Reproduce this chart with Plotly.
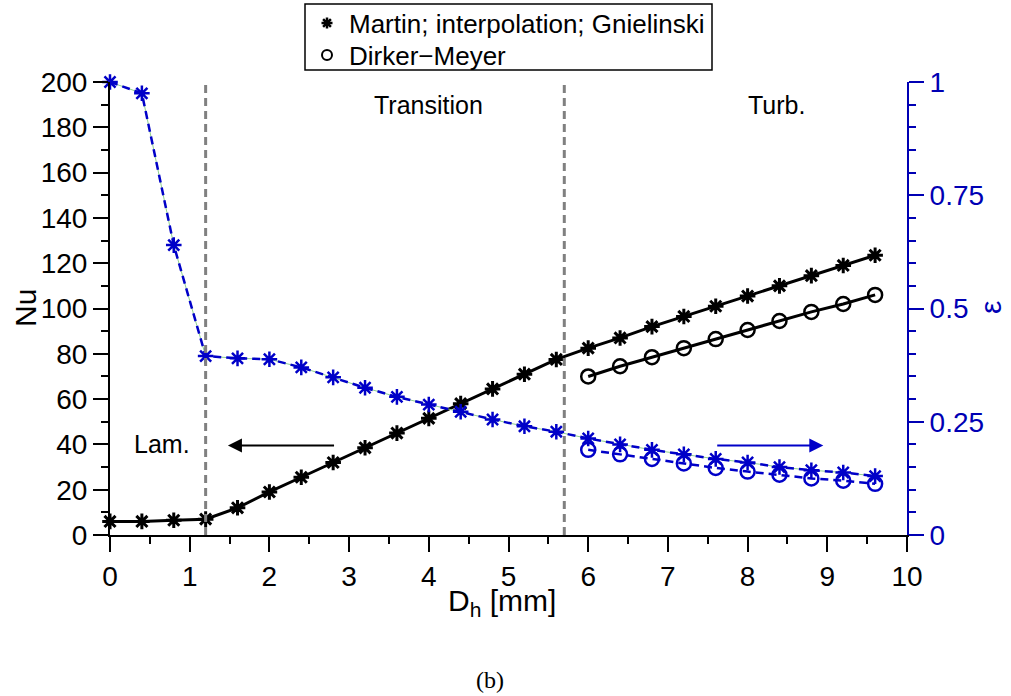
import plotly.graph_objects as go

# ---- data ----
dh = [0.0, 0.4, 0.8, 1.2, 1.6, 2.0, 2.4, 2.8, 3.2, 3.6, 4.0, 4.4, 4.8,
      5.2, 5.6, 6.0, 6.4, 6.8, 7.2, 7.6, 8.0, 8.4, 8.8, 9.2, 9.6]
nu_martin = [6, 6, 6.5, 7, 12, 19, 25.5, 32, 38.5, 45, 51.5, 58, 64.5,
             71, 77.5, 82.5, 87, 92, 96.5, 101, 105.5, 110, 114.5, 119, 123.5]
eps_martin = [1.0, 0.975, 0.64, 0.395, 0.39, 0.388, 0.37, 0.348, 0.325, 0.305,
              0.288, 0.272, 0.255, 0.24, 0.228, 0.213, 0.2, 0.188, 0.178,
              0.168, 0.16, 0.15, 0.143, 0.138, 0.13]

dh_dm = [6.0, 6.4, 6.8, 7.2, 7.6, 8.0, 8.4, 8.8, 9.2, 9.6]
nu_dm = [70, 74.5, 78.5, 82.5, 86.5, 90.5, 94.5, 98.5, 102, 106]
eps_dm = [0.188, 0.178, 0.168, 0.158, 0.148, 0.14, 0.133, 0.125, 0.12, 0.113]

regime_bounds = [1.2, 5.7]
legend_names = ["Martin; interpolation; Gnielinski", "Dirker\u2212Meyer"]

BLUE = "#0000C8"
AXBLUE = "#0000B4"
FONT = "Liberation Sans, Arial, sans-serif"
FS = 25      # annotation text
TFS = 28     # tick labels
AFS = 30     # axis titles
LFS = 26     # legend text

# plot-area geometry (pixels) used to place the hand-made legend
L, R, T, B = 110, 104, 82, 161
W, H = 1011, 696
PW, PH = W - L - R, H - T - B


def px2paper_x(px):
    return (px - L) / PW


def px2paper_y(py):
    return (H - B - py) / PH


fig = go.Figure()

# thin green interpolation line under the blue dashed line
fig.add_trace(go.Scatter(x=dh, y=eps_martin, yaxis="y2", mode="lines",
                         line=dict(color="#8fd08f", width=1),
                         showlegend=False, hoverinfo="skip"))
fig.add_trace(go.Scatter(x=dh, y=eps_martin, yaxis="y2", mode="lines+markers",
                         line=dict(color=BLUE, width=2.5, dash="8px,5px"),
                         marker=dict(symbol="asterisk-open", size=13, color=BLUE,
                                     line=dict(color=BLUE, width=2.5)),
                         showlegend=False, cliponaxis=False))
fig.add_trace(go.Scatter(x=dh_dm, y=eps_dm, yaxis="y2", mode="lines+markers",
                         line=dict(color=BLUE, width=2.5, dash="8px,5px"),
                         marker=dict(symbol="circle-open", size=14, color=BLUE,
                                     line=dict(color=BLUE, width=2.5)),
                         showlegend=False, cliponaxis=False))
fig.add_trace(go.Scatter(x=dh, y=nu_martin, mode="lines+markers",
                         line=dict(color="black", width=3),
                         marker=dict(symbol="asterisk-open", size=13, color="black",
                                     line=dict(color="black", width=3)),
                         showlegend=False, cliponaxis=False))
fig.add_trace(go.Scatter(x=dh_dm, y=nu_dm, mode="lines+markers",
                         line=dict(color="black", width=3),
                         marker=dict(symbol="circle-open", size=14, color="black",
                                     line=dict(color="black", width=2.5)),
                         showlegend=False, cliponaxis=False))

for xb in regime_bounds:
    fig.add_shape(type="line", x0=xb, x1=xb, y0=0, y1=200, xref="x", yref="y",
                  line=dict(color="#808080", width=3, dash="8px,5px"), layer="above")

# ---- hand-made legend box (matches the reference's compact box) ----
fig.add_shape(type="rect", xref="paper", yref="paper",
              x0=px2paper_x(305), x1=px2paper_x(712),
              y0=px2paper_y(70), y1=px2paper_y(4),
              line=dict(color="black", width=1.5), fillcolor="rgba(0,0,0,0)",
              layer="above")

# legend symbols: an 8-armed asterisk and an open circle, sized in pixels
r_ast, d_ast = 5.5, 3.9
fig.add_shape(type="path", xref="paper", yref="paper",
              xsizemode="pixel", ysizemode="pixel",
              xanchor=px2paper_x(327), yanchor=px2paper_y(23),
              path=(f"M{-r_ast},0 L{r_ast},0 M0,{-r_ast} L0,{r_ast} "
                    f"M{-d_ast},{-d_ast} L{d_ast},{d_ast} "
                    f"M{-d_ast},{d_ast} L{d_ast},{-d_ast}"),
              line=dict(color="black", width=2.5), layer="above")
fig.add_shape(type="circle", xref="paper", yref="paper",
              xsizemode="pixel", ysizemode="pixel",
              xanchor=px2paper_x(327), yanchor=px2paper_y(55),
              x0=-5, x1=5, y0=-5, y1=5,
              line=dict(color="black", width=2), layer="above")

ann = [
    dict(x=px2paper_x(347), y=px2paper_y(24), xref="paper", yref="paper",
         text=legend_names[0], showarrow=False, xanchor="left", yanchor="middle",
         font=dict(family=FONT, size=LFS, color="black")),
    dict(x=px2paper_x(347), y=px2paper_y(56), xref="paper", yref="paper",
         text=legend_names[1], showarrow=False, xanchor="left", yanchor="middle",
         font=dict(family=FONT, size=LFS, color="black")),
    dict(x=0.65, y=40, xref="x", yref="y", text="Lam.", showarrow=False),
    dict(x=4.0, y=190, xref="x", yref="y", text="Transition", showarrow=False),
    dict(x=8.36, y=190, xref="x", yref="y", text="Turb.", showarrow=False),
    dict(x=1.48, y=39.5, ax=2.83, ay=39.5, xref="x", yref="y", axref="x", ayref="y",
         text="", showarrow=True, arrowhead=2, arrowsize=1.4, arrowwidth=2,
         arrowcolor="black"),
    dict(x=8.95, y=39.5, ax=7.6, ay=39.5, xref="x", yref="y", axref="x", ayref="y",
         text="", showarrow=True, arrowhead=2, arrowsize=1.4, arrowwidth=2,
         arrowcolor=BLUE),
    dict(x=px2paper_x(25), y=px2paper_y(308), xref="paper", yref="paper", text="Nu",
         showarrow=False, textangle=-90, xanchor="center", yanchor="middle",
         font=dict(family=FONT, size=AFS, color="black")),
    dict(x=px2paper_x(990), y=px2paper_y(308), xref="paper", yref="paper",
         text="\u03b5", showarrow=False, textangle=-90,
         xanchor="center", yanchor="middle",
         font=dict(color=AXBLUE, size=AFS, family=FONT)),
    dict(x=px2paper_x(502), y=px2paper_y(602), xref="paper", yref="paper",
         text="D<sub>h</sub> [mm]", showarrow=False, xanchor="center", yanchor="middle",
         font=dict(family=FONT, size=AFS, color="black")),
    dict(x=px2paper_x(490), y=px2paper_y(680), xref="paper", yref="paper", text="(b)",
         showarrow=False, xanchor="center", yanchor="middle",
         font=dict(family="Liberation Serif, Times New Roman, serif", size=24,
                   color="black")),
]
for a in ann:
    a.setdefault("font", dict(family=FONT, size=FS, color="black"))

fig.update_layout(
    width=W, height=H,
    margin=dict(l=L, r=R, t=T, b=B),
    paper_bgcolor="white", plot_bgcolor="white",
    font=dict(family=FONT, size=FS, color="black"),
    showlegend=False,
    xaxis=dict(range=[0, 10], dtick=1, showgrid=False, zeroline=False,
               showline=True, linecolor="black", linewidth=2,
               ticks="outside", ticklen=15, tickwidth=2, tickcolor="black",
               tickfont=dict(family=FONT, size=TFS, color="black"),
               minor=dict(dtick=0.5, ticks="outside", ticklen=7, tickwidth=2,
                          tickcolor="black")),
    yaxis=dict(range=[0, 200], dtick=20, showgrid=False, zeroline=False,
               showline=True, linecolor="black", linewidth=2,
               ticks="outside", ticklen=15, tickwidth=2, tickcolor="black",
               tickfont=dict(family=FONT, size=TFS, color="black"),
               minor=dict(dtick=10, ticks="outside", ticklen=7, tickwidth=2,
                          tickcolor="black")),
    yaxis2=dict(range=[0, 1], overlaying="y", side="right", anchor="x",
                tickvals=[0, 0.25, 0.5, 0.75, 1], ticktext=["0", "0.25", "0.5", "0.75", "1"],
                showgrid=False, zeroline=False,
                showline=True, linecolor=AXBLUE, linewidth=2,
                ticks="outside", ticklen=15, tickwidth=2, tickcolor=AXBLUE,
                tickfont=dict(family=FONT, size=TFS, color=AXBLUE),
                minor=dict(dtick=0.05, ticks="outside", ticklen=7, tickwidth=2,
                           tickcolor=AXBLUE)),
    annotations=ann,
)

fig.write_html("out.html")
